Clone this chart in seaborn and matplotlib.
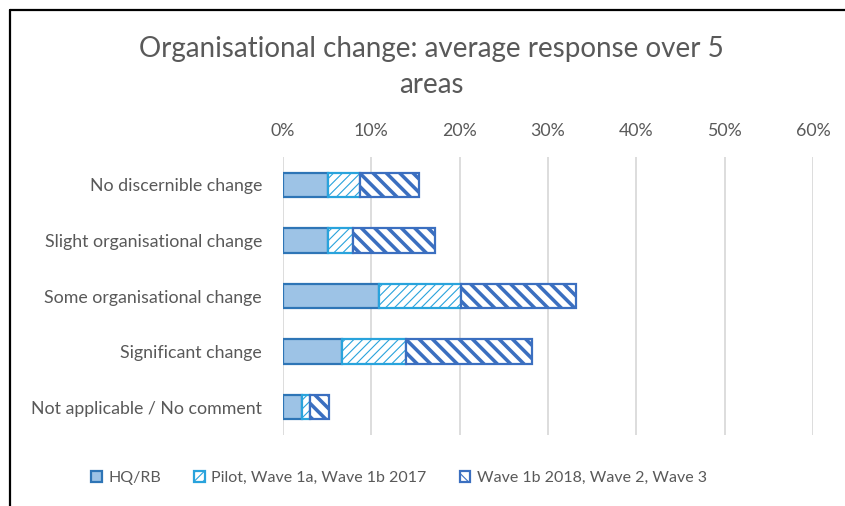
import matplotlib
matplotlib.use("Agg")
import matplotlib.pyplot as plt
from matplotlib.patches import Patch
from matplotlib.lines import Line2D
from matplotlib.ticker import PercentFormatter
import numpy as np
import pandas as pd
import seaborn as sns

# Response categories (top to bottom)
categories = [
    "No discernible change",
    "Slight organisational change",
    "Some organisational change",
    "Significant change",
    "Not applicable / No comment",
]

# Average share of responses per group (fraction of respondents)
hq_rb = [0.051, 0.051, 0.109, 0.067, 0.022]
pilot_wave1 = [0.036, 0.028, 0.092, 0.072, 0.009]
wave1b_2_3 = [0.067, 0.093, 0.131, 0.143, 0.021]

series_names = ["HQ/RB", "Pilot, Wave 1a, Wave 1b 2017", "Wave 1b 2018, Wave 2, Wave 3"]
x_ticks = [0.0, 0.1, 0.2, 0.3, 0.4, 0.5, 0.6]
title = "Organisational change: average response over 5\nareas"

sns.set_theme(style="white")
plt.rcParams["font.family"] = ["Lato", "DejaVu Sans"]
plt.rcParams["hatch.linewidth"] = 1.0

TEXT = "#595959"
GRID = "#D9D9D9"

styles = [
    dict(face="#9DC3E6", edge="#2E75B6", hatch=None, hlw=1.0),
    dict(face="white", edge="#29A3DC", hatch="///", hlw=1.0),
    dict(face="white", edge="#3B6FC0", hatch="\\\\", hlw=3.2),
]

DPI = 80
fig = plt.figure(figsize=(845 / DPI, 506 / DPI), dpi=DPI)
ax = fig.add_axes([283 / 845, 1 - 435 / 506, (813 - 283) / 845, (435 - 157) / 506])

df = pd.DataFrame({"category": categories, series_names[0]: hq_rb,
                   series_names[1]: pilot_wave1, series_names[2]: wave1b_2_3})

# Stack the three groups: each bar starts where the previous group ends
starts = np.zeros(len(categories))
for i, name in enumerate(series_names):
    st = styles[i]
    n_before = len(ax.patches)
    sns.barplot(data=df, x=name, y="category", orient="y", ax=ax,
                color=st["face"], saturation=1, width=0.44,
                edgecolor=st["edge"], linewidth=2.0, hatch=st["hatch"],
                zorder=3 + i)
    new_patches = ax.patches[n_before:]
    for p, s in zip(new_patches, starts):
        p.set_x(s)
        p.set_facecolor(st["face"])
        p.set_edgecolor(st["edge"])
        if hasattr(p, "set_hatch_linewidth"):
            p.set_hatch_linewidth(st["hlw"])
    starts = starts + np.asarray(df[name])

ax.set_xlim(0, 0.6)
ax.set_ylim(4.5, -0.5)
ax.set_xticks(x_ticks)
ax.xaxis.set_major_formatter(PercentFormatter(1.0, decimals=0))
ax.xaxis.tick_top()
ax.tick_params(axis="x", length=0, pad=16, labelsize=16, labelcolor=TEXT)
ax.tick_params(axis="y", length=0, pad=19, labelsize=16, labelcolor=TEXT)
ax.set_xlabel("")
ax.set_ylabel("")
ax.grid(axis="x", color=GRID, linewidth=1.6, zorder=0)
ax.set_axisbelow(True)
for sp in ax.spines.values():
    sp.set_visible(False)

fig.text(431 / 845, 1 - 67 / 506, title, ha="center", va="center",
         fontsize=25, color=TEXT, linespacing=1.5)

handles = [Patch(facecolor=s["face"], edgecolor=s["edge"], hatch=s["hatch"],
                 linewidth=2.0) for s in styles]
fig.legend(handles, series_names, loc="center", ncol=3,
           bbox_to_anchor=(399 / 845, 1 - 478 / 506), frameon=False,
           fontsize=14.4, labelcolor=TEXT, handlelength=0.65, handleheight=0.65,
           handletextpad=0.4, columnspacing=2.1)

# Outer frame (left and top edges)
fig.add_artist(Line2D([10 / 845, 10 / 845], [0, 1 - 10 / 506], color="black",
                      linewidth=2.0, transform=fig.transFigure))
fig.add_artist(Line2D([10 / 845, 1], [1 - 10 / 506, 1 - 10 / 506], color="black",
                      linewidth=2.0, transform=fig.transFigure))

fig.savefig("out.png", dpi=DPI, facecolor="white")
